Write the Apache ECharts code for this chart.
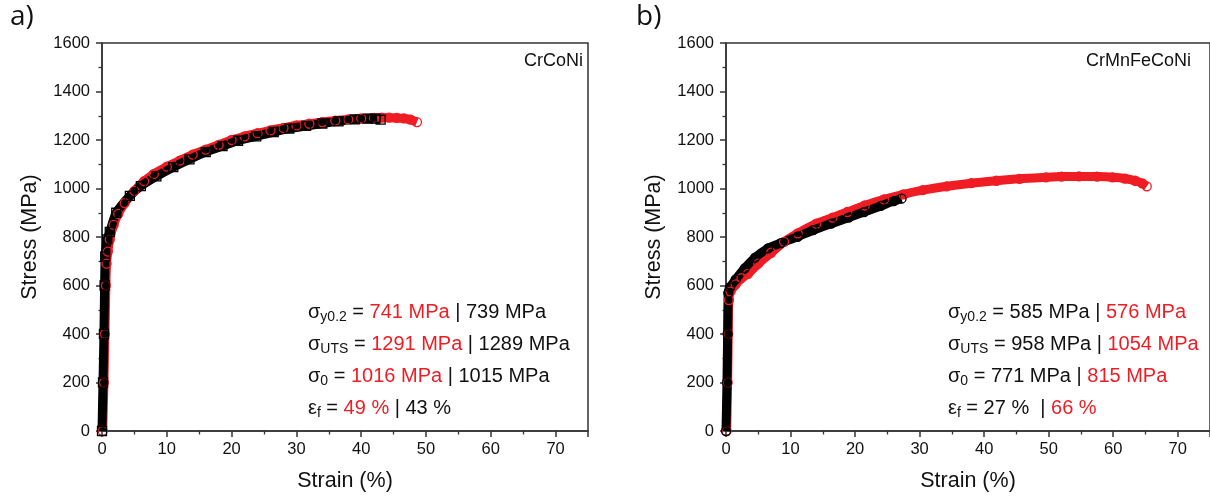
<!DOCTYPE html>
<html>
<head>
<meta charset="utf-8">
<script src="https://cdn.jsdelivr.net/npm/echarts@6/dist/echarts.min.js"></script>
<style>html,body{margin:0;padding:0;background:#fff}#c{width:1210px;height:497px}</style>
</head>
<body>
<div id="c"></div>
<script>
// ---- Data (strain %, stress MPa) ----
const crconiRed = [[0.1,0],[0.3,200],[0.45,400],[0.6,600],[0.7,690],[0.9,740],[1.2,790],[1.8,850],[2.5,895],[3.5,940],[5,990],[6.5,1030],[8,1060],[10,1090],[12,1115],[14,1140],[16,1160],[18,1180],[20,1200],[22,1215],[24,1228],[26,1240],[28,1250],[30,1260],[32,1267],[34,1274],[36,1280],[38,1285],[40,1289],[42,1291],[43.2,1292],[44.3,1292],[45.5,1291],[46.6,1289],[47.6,1284],[48.6,1274]];
const crconiBlack = [[0,0],[0.15,200],[0.3,400],[0.4,600],[0.5,720],[0.8,790],[1.2,821],[2.2,900],[4.3,970],[6,1010],[8.4,1050],[11,1088],[13.5,1120],[16,1150],[18.6,1175],[21,1197],[23.8,1215],[26.5,1233],[28.9,1247],[31.5,1258],[34,1268],[36.5,1277],[39,1285],[41,1288],[42.2,1288],[43,1284]];
const hea5Red = [[0.1,0],[0.25,200],[0.35,400],[0.45,540],[0.7,575],[1.5,605],[2.4,630],[3.4,648],[5,690],[7,735],[9,780],[11.1,815],[14,855],[16.5,880],[18.8,903],[21.5,930],[24.5,955],[27.5,976],[30.5,993],[34.2,1009],[38,1022],[41.9,1032],[45.5,1040],[49.6,1046],[52,1049],[54.7,1050],[57.5,1049],[59.9,1046],[61.8,1041],[63.4,1032],[64.5,1021],[65.2,1009]];
const hea5Black = [[0,0],[0.15,200],[0.25,400],[0.35,570],[0.6,592],[1.5,625],[2.9,671],[4.5,715],[6.5,753],[8.5,775],[11.1,801],[13.5,828],[16.3,855],[19,880],[21.4,903],[24,928],[26,948],[27.2,958]];
const xTicks = [0,10,20,30,40,50,60,70];
const yTicks = [0,200,400,600,800,1000,1200,1400,1600];
const panelNames = ['CrCoNi','CrMnFeCoNi'];
const panelLetters = ['a)','b)'];
const annA = [
  ['y0.2','741 MPa','739 MPa'],
  ['UTS','1291 MPa','1289 MPa'],
  ['0','1016 MPa','1015 MPa'],
  ['f','49 %','43 %']
];
const annB = [
  ['y0.2','585 MPa','576 MPa'],
  ['UTS','958 MPa','1054 MPa'],
  ['0','771 MPa','815 MPa'],
  ['f','27 % ','66 %']
];

const RED = '#f01c24';
const AX = '#333';
const FONT = '"Liberation Sans", Arial, sans-serif';

function xAxis(i){
  return {gridIndex:i, type:'value', min:0, max:75, interval:10,
    name:'Strain (%)', nameLocation:'middle', nameGap:39,
    nameTextStyle:{fontSize:21.5, color:'#111', fontFamily:FONT},
    axisLine:{lineStyle:{color:AX, width:1.5}},
    axisTick:{show:true, length:6, lineStyle:{color:AX, width:1.5}},
    minorTick:{show:true, splitNumber:2, length:3.5, lineStyle:{color:AX, width:1.3}},
    axisLabel:{fontSize:16.5, color:'#111', fontFamily:FONT, margin:10, showMaxLabel:false,
      formatter:v=> xTicks.includes(v)? String(v):''},
    splitLine:{show:false}};
}
function yAxis(i){
  return {gridIndex:i, type:'value', min:0, max:1600, interval:200,
    name:'Stress (MPa)', nameLocation:'middle', nameGap:61,
    nameTextStyle:{fontSize:21.5, color:'#111', fontFamily:FONT},
    axisLine:{lineStyle:{color:AX, width:1.5}},
    axisTick:{show:true, length:6, lineStyle:{color:AX, width:1.5}},
    minorTick:{show:true, splitNumber:2, length:3.5, lineStyle:{color:AX, width:1.3}},
    axisLabel:{fontSize:16.5, color:'#111', fontFamily:FONT, margin:12,
      formatter:v=> yTicks.includes(v)? String(v):''},
    splitLine:{show:false}};
}
function curve(data, color, symbol, xi){
  return {type:'line', xAxisIndex:xi, yAxisIndex:xi, data:data,
    symbol:symbol, symbolSize:9, showSymbol:true, showAllSymbol:true,
    lineStyle:{color:color, width:9}, smooth:0.25,
    itemStyle:{color:'rgba(0,0,0,0)', borderColor:color, borderWidth:1.3},
    z:2, clip:true, animation:false, emphasis:{disabled:true}};
}
function annotation(rows, left, redFirst){
  const rich = {
    t:{fontSize:20, fontFamily:FONT, fill:'#111', lineHeight:23},
    r:{fontSize:20, fontFamily:FONT, fill:RED, lineHeight:23},
    k:{fontSize:20, fontFamily:FONT, fill:'#111', lineHeight:23},
    s:{fontSize:14, fontFamily:FONT, fill:'#111', lineHeight:14, padding:[11,0,0,0], verticalAlign:'bottom'}
  };
  return rows.map((r,i)=>{
    const sym = r[0]==='f' ? 'ε' : 'σ';
    const a = redFirst ? 'r' : 'k';
    const b = redFirst ? 'k' : 'r';
    return {type:'text', left:left, top:299 + i*32,
      style:{text:`{t|${sym}}{s|${r[0]}}{t| = }{${a}|${r[1]}}{t| | }{${b}|${r[2]}}`, rich:rich, fontFamily:FONT}};
  });
}

const chart = echarts.init(document.getElementById('c'), null, {renderer:'canvas'});
chart.setOption({
  backgroundColor:'#fff',
  animation:false,
  grid:[
    {left:102, top:43, width:486, height:391, show:true, borderColor:AX, borderWidth:1.5, backgroundColor:'transparent'},
    {left:726, top:43, width:487.5, height:391, show:true, borderColor:AX, borderWidth:1.5, backgroundColor:'transparent'}
  ],
  xAxis:[xAxis(0), xAxis(1)],
  yAxis:[yAxis(0), yAxis(1)],
  series:[
    curve(crconiRed, RED, 'circle', 0),
    curve(crconiBlack, '#000', 'rect', 0),
    curve(hea5Red, RED, 'circle', 1),
    curve(hea5Black, '#000', 'circle', 1)
  ],
  graphic:[
    {type:'text', left:10, top:3, style:{text:panelLetters[0], fontSize:28, fontFamily:'"Open Sans", sans-serif', fill:'#111'}},
    {type:'text', left:636, top:3, style:{text:panelLetters[1], fontSize:28, fontFamily:'"Open Sans", sans-serif', fill:'#111'}},
    {type:'text', right:1210-583, top:52, style:{text:panelNames[0], fontSize:18, fontFamily:FONT, fill:'#111', align:'right'}},
    {type:'text', right:1210-1191, top:52, style:{text:panelNames[1], fontSize:18, fontFamily:FONT, fill:'#111', align:'right'}},
    ...annotation(annA, 308, true),
    ...annotation(annB, 948, false)
  ]
});
</script>
</body>
</html>
